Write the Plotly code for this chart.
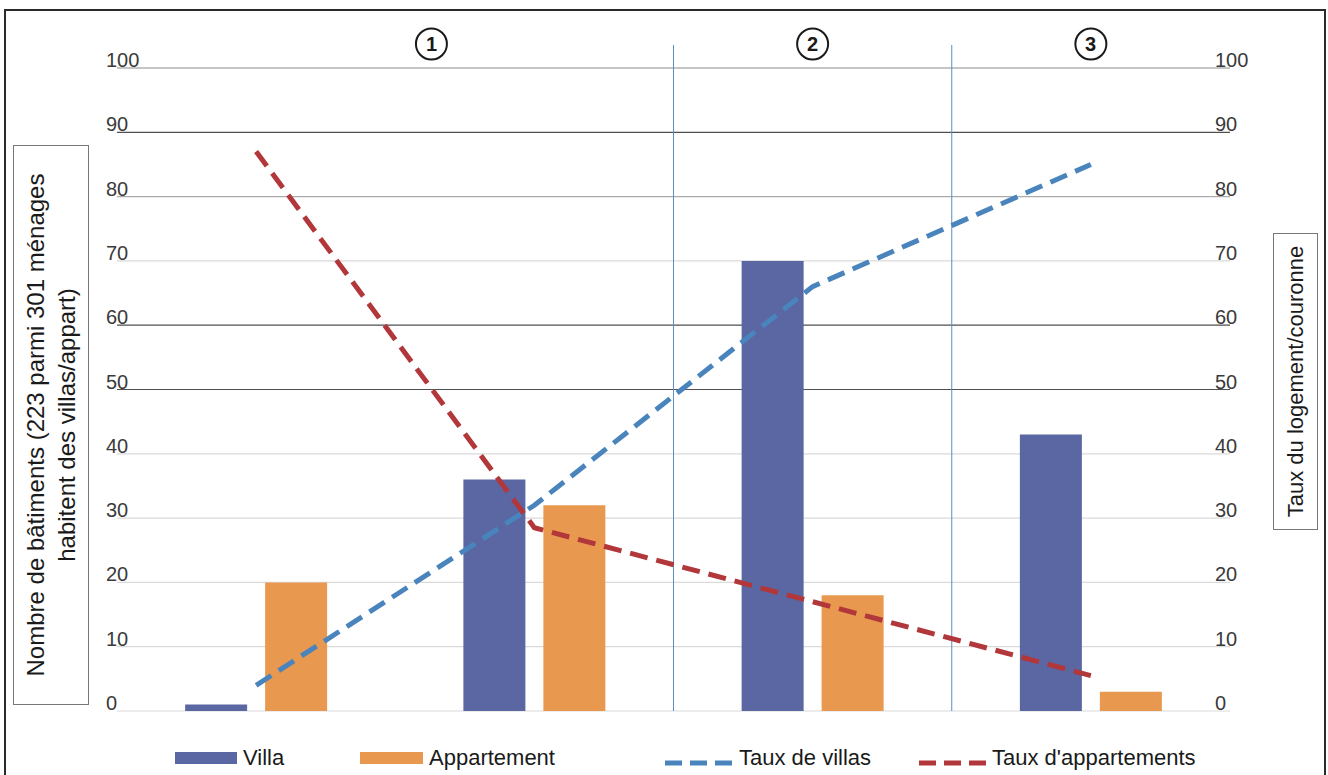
import plotly.graph_objects as go

# ---------------- data ----------------
categories = ["Couronne 1 (a)", "Couronne 1 (b)", "Couronne 2", "Couronne 3"]
villa = [1, 36, 70, 43]
appartement = [20, 32, 18, 3]
taux_villas = [4, 32, 66, 85]
taux_appartements = [87, 28.5, 17, 5.5]
y_ticks = [0, 10, 20, 30, 40, 50, 60, 70, 80, 90, 100]
zone_labels = ["1", "2", "3"]
series_names = ["Villa", "Appartement", "Taux de villas", "Taux d'appartements"]

# ---------------- geometry helpers ----------------
W, H = 1328, 775
L, R, T, B = 117, 98, 30, 50
PW, PH = W - L - R, H - T - B
Y0_PX, Y100_PX = 711, 68
SCALE = (Y0_PX - Y100_PX) / 100.0
Y_TOP = (Y0_PX - T) / SCALE
Y_BOT = -((H - B) - Y0_PX) / SCALE


def px(x):
    return (x - L) / PW


def py(y):
    return (H - B - y) / PH


FONT = "Liberation Sans, Arial, sans-serif"
C_VILLA = "#5A67A3"
C_APP = "#E8984F"
C_TV = "#4A84BC"
C_TA = "#B2373A"
DASH = "18px,9px"

fig = go.Figure()
fig.add_trace(go.Bar(x=categories, y=villa, name=series_names[0],
                     marker=dict(color=C_VILLA, line=dict(width=0))))
fig.add_trace(go.Bar(x=categories, y=appartement, name=series_names[1],
                     marker=dict(color=C_APP, line=dict(width=0))))
fig.add_trace(go.Scatter(x=categories, y=taux_villas, name=series_names[2], yaxis="y2",
                         mode="lines", line=dict(color=C_TV, width=5, dash=DASH)))
fig.add_trace(go.Scatter(x=categories, y=taux_appartements, name=series_names[3], yaxis="y2",
                         mode="lines", line=dict(color=C_TA, width=5, dash=DASH)))

shapes = []
# gridlines (style per level)
grid_dark = {90, 60, 50}
grid_mid = {100: "#8c8c8c", 80: "#ababab"}
for v in y_ticks:
    if v in grid_dark:
        c = "#4f4f4f"
    elif v in grid_mid:
        c = grid_mid[v]
    else:
        c = "#dadada"
    shapes.append(dict(type="line", xref="paper", yref="y", x0=0, x1=1, y0=v, y1=v,
                       line=dict(color=c, width=1.2), layer="below"))
# zone separators
for xs in [1.5, 2.5]:
    shapes.append(dict(type="line", xref="x", yref="paper", x0=xs, x1=xs, y0=py(711), y1=py(45),
                       line=dict(color="#5f8cc2", width=1), layer="below"))
# circled zone numbers
zone_x = [0.63, 2, 3]
annotations = []
for lab, zx in zip(zone_labels, zone_x):
    shapes.append(dict(type="circle", xref="x", yref="paper", xsizemode="pixel", ysizemode="pixel",
                       xanchor=zx, yanchor=py(44), x0=-15.5, x1=15.5, y0=-15.5, y1=15.5,
                       line=dict(color="#1a1a1a", width=2)))
    annotations.append(dict(x=zx, y=py(44), xref="x", yref="paper", text="<b>%s</b>" % lab,
                            showarrow=False, xanchor="center", yanchor="middle",
                            font=dict(family=FONT, size=20, color="#1a1a1a")))
# outer frame
shapes.append(dict(type="rect", xref="paper", yref="paper", x0=px(5), x1=px(1325),
                   y0=py(800), y1=py(10), line=dict(color="#2a2a2a", width=2)))

# manual legend
leg_y = 757
shapes.append(dict(type="rect", xref="paper", yref="paper", x0=px(175), x1=px(237),
                   y0=py(764), y1=py(752), fillcolor=C_VILLA, line=dict(width=0)))
shapes.append(dict(type="rect", xref="paper", yref="paper", x0=px(360), x1=px(423),
                   y0=py(764), y1=py(752), fillcolor=C_APP, line=dict(width=0)))
shapes.append(dict(type="line", xref="paper", yref="paper", x0=px(665), x1=px(734),
                   y0=py(763), y1=py(763), line=dict(color=C_TV, width=5, dash="17px,8px")))
shapes.append(dict(type="line", xref="paper", yref="paper", x0=px(919), x1=px(988),
                   y0=py(763), y1=py(763), line=dict(color=C_TA, width=5, dash="17px,8px")))
for name, lx in zip(series_names, [241, 427, 737, 990]):
    annotations.append(dict(x=px(lx), y=py(leg_y), xref="paper", yref="paper", text=name,
                            showarrow=False, xanchor="left", yanchor="middle",
                            font=dict(family=FONT, size=22, color="#1a1a1a")))

# axis titles in boxes
annotations.append(dict(x=px(51), y=py(425), xref="paper", yref="paper",
                        text="Nombre de bâtiments (223 parmi 301 ménages<br>habitent des villas/appart)",
                        textangle=-90, showarrow=False, xanchor="center", yanchor="middle",
                        width=556, height=72, borderpad=1, bordercolor="#777777", borderwidth=1,
                        font=dict(family=FONT, size=24, color="#1a1a1a")))
annotations.append(dict(x=px(1295.5), y=py(381.5), xref="paper", yref="paper",
                        text="Taux du logement/couronne",
                        textangle=-90, showarrow=False, xanchor="center", yanchor="middle",
                        width=293, height=41, borderpad=1, bordercolor="#777777", borderwidth=1,
                        font=dict(family=FONT, size=22, color="#1a1a1a")))

tickfont = dict(family=FONT, size=20, color="#3a3a3a")
fig.update_layout(
    width=W, height=H,
    margin=dict(l=L, r=R, t=T, b=B),
    paper_bgcolor="white", plot_bgcolor="white",
    barmode="group", bargap=0.425, bargroupgap=0.225,
    showlegend=False,
    xaxis=dict(showticklabels=False, showgrid=False, zeroline=False, showline=False,
               ticks="", range=[-0.5, 3.5]),
    yaxis=dict(range=[Y_BOT, Y_TOP], tickvals=y_ticks, showgrid=False,
               zeroline=False, showline=False, ticks="", ticklabelposition="inside top",
               ticklabelstandoff=-14, ticklabelshift=6, tickfont=tickfont),
    yaxis2=dict(range=[Y_BOT, Y_TOP], tickvals=y_ticks, overlaying="y", side="right", showgrid=False,
                zeroline=False, showline=False, ticks="", ticklabelposition="outside top",
                ticklabelstandoff=-16, ticklabelshift=6, tickfont=tickfont),
    shapes=shapes,
    annotations=annotations,
)

fig.write_html("out.html", config={"displayModeBar": False},
               post_script="document.body.style.margin='0';document.body.style.overflow='hidden';")
